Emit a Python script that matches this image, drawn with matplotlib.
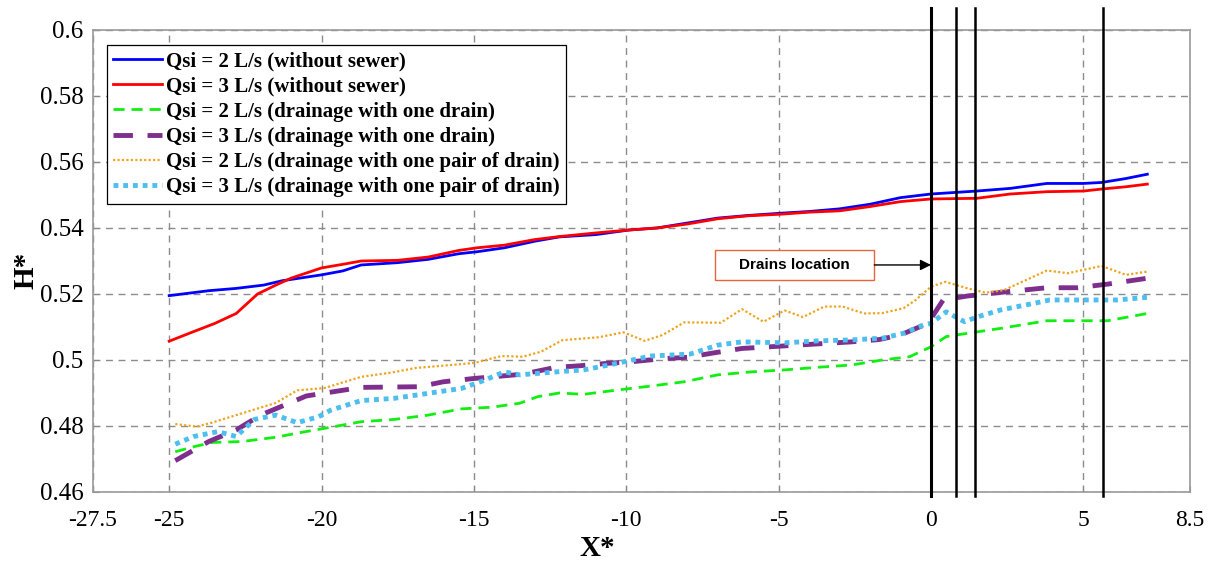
import matplotlib
matplotlib.use("Agg")
import matplotlib.pyplot as plt
from matplotlib.patches import Rectangle

# ---------------- data ----------------
x_blue = [-25.0, -23.7, -22.8, -21.9, -21.3, -20.0, -19.3, -18.7, -17.5, -16.5, -15.5, -14.9,
          -14.0, -13.0, -12.2, -11.0, -9.9, -9.0, -8.0, -7.0, -6.0, -4.9, -4.0, -3.0, -2.0,
          -1.0, 0.0, 1.5, 2.6, 3.8, 5.0, 5.6, 6.4, 7.1]
h_blue = [0.5195, 0.5210, 0.5217, 0.5227, 0.5240, 0.5258, 0.5270, 0.5288, 0.5295, 0.5305, 0.5322, 0.5328,
          0.5340, 0.5360, 0.5373, 0.5380, 0.5394, 0.5400, 0.5415, 0.5430, 0.5438, 0.5445, 0.5450, 0.5458, 0.5472,
          0.5492, 0.5503, 0.5512, 0.5520, 0.5535, 0.5535, 0.5538, 0.5550, 0.5563]

x_red = [-25.0, -24.2, -23.5, -22.8, -22.1, -21.5, -21.0, -20.0, -19.3, -18.7, -17.5, -16.5, -15.5,
         -14.9, -14.0, -13.0, -12.2, -11.0, -9.9, -9.0, -8.0, -7.0, -6.0, -4.9, -4.0, -3.0, -2.0,
         -1.0, 0.0, 1.5, 2.6, 3.8, 5.0, 5.6, 6.4, 7.1]
h_red = [0.5057, 0.5086, 0.5111, 0.5141, 0.5200, 0.5227, 0.5248, 0.5279, 0.5290, 0.5300, 0.5302, 0.5312, 0.5332,
         0.5340, 0.5348, 0.5365, 0.5374, 0.5385, 0.5394, 0.5400, 0.5412, 0.5428, 0.5437, 0.5442, 0.5448, 0.5452, 0.5465,
         0.5480, 0.5488, 0.5490, 0.5503, 0.5510, 0.5512, 0.5518, 0.5525, 0.5533]

x_green = [-24.8, -24.2, -23.6, -22.6, -21.5, -20.7, -19.9, -18.7, -17.6, -16.5, -15.4, -14.4, -13.5,
           -12.9, -12.2, -11.4, -10.3, -9.2, -8.1, -7.0, -5.9, -4.8, -3.7, -2.6, -1.6, -0.7, 0.0,
           0.5, 1.2, 2.3, 3.8, 5.0, 5.8, 7.1]
h_green = [0.4722, 0.4737, 0.4750, 0.4753, 0.4766, 0.4780, 0.4793, 0.4813, 0.4820, 0.4833, 0.4852, 0.4857, 0.4869,
           0.4889, 0.4900, 0.4896, 0.4909, 0.4921, 0.4934, 0.4955, 0.4964, 0.4970, 0.4978, 0.4985, 0.5000, 0.5010, 0.5040,
           0.5071, 0.5081, 0.5096, 0.5119, 0.5119, 0.5119, 0.5141]

x_purple = [-24.8, -23.7, -22.8, -22.0, -21.3, -20.5, -19.6, -18.7, -16.8, -16.0, -15.0, -13.4, -12.3,
            -11.6, -10.6, -9.8, -8.8, -8.0, -7.1, -6.2, -5.3, -4.4, -3.5, -2.6, -1.7, -1.0, -0.1,
            0.4, 1.2, 2.3, 3.8, 4.8, 5.8, 6.9, 7.1]
h_purple = [0.4695, 0.4753, 0.4788, 0.4833, 0.4860, 0.4891, 0.4904, 0.4917, 0.4919, 0.4934, 0.4944, 0.4957, 0.4978,
            0.4982, 0.4990, 0.4995, 0.5004, 0.5008, 0.5022, 0.5035, 0.5040, 0.5045, 0.5050, 0.5055, 0.5062, 0.5076, 0.5111,
            0.5182, 0.5194, 0.5205, 0.5219, 0.5219, 0.5230, 0.5245, 0.5248]

x_orange = [-24.8, -24.1, -23.6, -22.8, -21.5, -20.8, -19.9, -18.7, -17.7, -16.9, -16.1, -15.0, -14.1,
            -13.4, -12.8, -12.1, -10.9, -10.1, -9.4, -8.8, -8.1, -6.9, -6.2, -5.5, -4.8, -4.2, -3.5,
            -2.9, -2.2, -1.6, -0.9, -0.5, 0.0, 0.47, 1.2, 1.8, 2.4, 3.8, 4.5, 5.0, 5.6, 6.4, 7.1]
h_orange = [0.4806, 0.4798, 0.4810, 0.4833, 0.4870, 0.4908, 0.4915, 0.4949, 0.4962, 0.4976, 0.4982, 0.4991, 0.5012,
            0.5010, 0.5025, 0.5060, 0.5069, 0.5084, 0.5058, 0.5076, 0.5114, 0.5113, 0.5154, 0.5116, 0.5150, 0.5130, 0.5162,
            0.5162, 0.5141, 0.5142, 0.5157, 0.5182, 0.5222, 0.5237, 0.5217, 0.5204, 0.5212, 0.5271, 0.5263, 0.5273, 0.5285,
            0.5258, 0.5268]

x_cyan = [-24.8, -24.2, -23.4, -22.8, -22.2, -21.5, -20.8, -20.1, -19.7, -18.7, -17.6, -16.5, -15.4,
          -14.7, -14.0, -13.5, -12.3, -11.4, -10.3, -9.2, -7.9, -7.0, -6.2, -4.8, -3.7, -2.6, -1.6,
          -0.9, -0.25, 0.0, 0.5, 1.1, 1.5, 2.3, 3.4, 3.9, 5.0, 6.1, 7.1]
h_cyan = [0.4745, 0.4768, 0.4783, 0.4768, 0.4820, 0.4833, 0.4810, 0.4828, 0.4848, 0.4877, 0.4884, 0.4899, 0.4914,
          0.4937, 0.4964, 0.4955, 0.4964, 0.4970, 0.4990, 0.5012, 0.5018, 0.5045, 0.5055, 0.5052, 0.5058, 0.5061, 0.5066,
          0.5081, 0.5106, 0.5111, 0.5146, 0.5116, 0.5130, 0.5152, 0.5172, 0.5182, 0.5182, 0.5182, 0.5190]

labels = ["Qsi = 2 L/s (without sewer)",
          "Qsi = 3 L/s (without sewer)",
          "Qsi = 2 L/s (drainage with one drain)",
          "Qsi = 3 L/s (drainage with one drain)",
          "Qsi = 2 L/s (drainage with one pair of drain)",
          "Qsi = 3 L/s (drainage with one pair of drain)"]

drain_x = [0.0, 0.82, 1.44, 5.64]
arrow_y = 0.5288

x_ticks = [-27.5, -25, -20, -15, -10, -5, 0, 5, 8.5]
x_ticklabels = ["-27.5", "-25", "-20", "-15", "-10", "-5", "0", "5", "8.5"]
y_ticks = [0.46, 0.48, 0.50, 0.52, 0.54, 0.56, 0.58, 0.60]
y_ticklabels = ["0.46", "0.48", "0.5", "0.52", "0.54", "0.56", "0.58", "0.6"]

# ---------------- figure ----------------
serif = "Liberation Serif"
fig = plt.figure(figsize=(12.18, 5.62), dpi=100)
ax = fig.add_axes([93 / 1218, 1 - 492 / 562, (1190 - 93) / 1218, (492 - 30) / 562])

ax.plot(x_blue, h_blue, color="#0000FF", lw=2.0, label=labels[0], zorder=3)
ax.plot(x_red, h_red, color="#FF0000", lw=2.0, label=labels[1], zorder=3)
ax.plot(x_green, h_green, color="#11EE11", lw=2.0, ls=(0, (4, 2.5)), label=labels[2], zorder=3)
ax.plot(x_purple, h_purple, color="#7E2F8E", lw=3.5, ls=(0, (4, 3)), label=labels[3], zorder=3)
ax.plot(x_orange, h_orange, color="#EDA520", lw=1.6, ls=(0, (1, 1)), label=labels[4], zorder=3)
ax.plot(x_cyan, h_cyan, color="#4DBEEE", lw=3.5, ls=(0, (1, 1)), label=labels[5], zorder=3)

for xd in drain_x:
    ax.axvline(xd, ymin=-0.008, ymax=1.048, color="black", lw=2.2 if xd == drain_x[0] else 1.8,
               clip_on=False, zorder=4)

ax.set_xlim(-27.5, 8.5)
ax.set_ylim(0.46, 0.60)
ax.set_xticks(x_ticks)
ax.set_xticklabels(x_ticklabels, fontfamily=serif, fontsize=17)
ax.set_yticks(y_ticks)
ax.set_yticklabels(y_ticklabels, fontfamily=serif, fontsize=18)
ax.tick_params(direction="in", length=4, color="#888888")
ax.tick_params(axis="x", pad=13)
ax.tick_params(axis="y", pad=7)

ax.grid(True, color="#8c8c8c", ls=(0, (5, 4)), lw=1.0)
for s in ax.spines.values():
    s.set_color("#999999")
    s.set_linewidth(1.2)

ax.set_ylabel("H*", fontfamily=serif, fontsize=21, fontweight="bold")
ax.yaxis.set_label_coords(-0.049, 0.48)
ax.set_xlabel("X*", fontfamily=serif, fontsize=21, fontweight="bold")
ax.xaxis.set_label_coords(0.46, -0.093)

leg = ax.legend(loc="upper left", bbox_to_anchor=(0.0128, 0.9675), borderaxespad=0,
                prop={"family": serif, "weight": "bold", "size": 15},
                fancybox=False, edgecolor="black", framealpha=1, handlelength=2.35,
                handletextpad=0.2, labelspacing=0.25, borderpad=0.3)
leg.get_frame().set_linewidth(0.9)

# annotation box "Drains location"
box_left, box_right = -7.08, -1.86
ax.add_patch(Rectangle((box_left, arrow_y - 0.0046), box_right - box_left, 0.0092,
                       facecolor="white", edgecolor="#E8653A", lw=1.0, zorder=5))
ax.text((box_left + box_right) / 2, arrow_y, "Drains location", ha="center", va="center",
        fontfamily="Liberation Sans", fontweight="bold", fontsize=11, zorder=6)
ax.annotate("", xy=(drain_x[0], arrow_y), xytext=(box_right, arrow_y),
            arrowprops=dict(arrowstyle="-|>", color="black", lw=1.0, mutation_scale=16,
                            shrinkA=0, shrinkB=0), zorder=6)

fig.savefig("out.png", dpi=100)
